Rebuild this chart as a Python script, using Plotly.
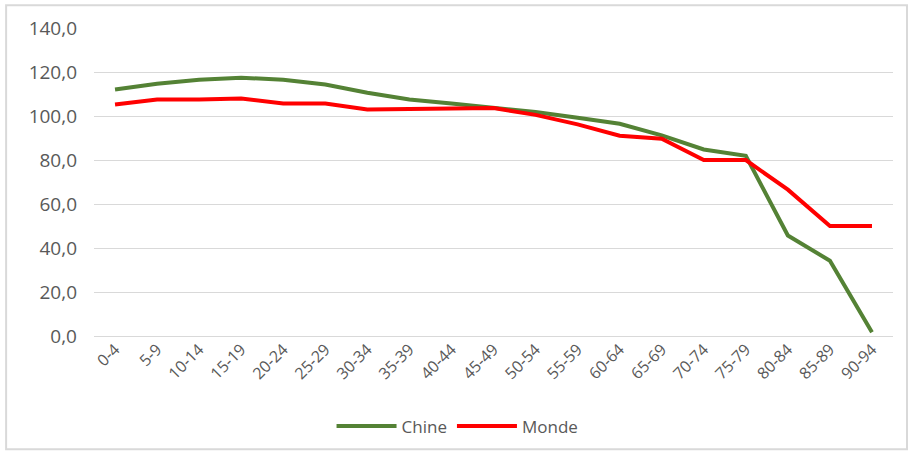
import plotly.graph_objects as go

age_groups = ["0-4", "5-9", "10-14", "15-19", "20-24", "25-29", "30-34", "35-39",
              "40-44", "45-49", "50-54", "55-59", "60-64", "65-69", "70-74", "75-79",
              "80-84", "85-89", "90-94"]
chine = [112.0, 114.7, 116.5, 117.4, 116.5, 114.3, 110.6, 107.5, 105.7, 103.8,
         101.8, 99.2, 96.5, 91.2, 84.8, 81.9, 45.7, 34.2, 1.7]
monde = [105.2, 107.5, 107.5, 108.0, 105.7, 105.7, 103.0, 103.0, 103.4, 103.6,
         100.5, 96.2, 91.0, 89.7, 80.0, 80.0, 66.5, 50.0, 50.0]
y_ticks = [0, 20, 40, 60, 80, 100, 120, 140]

fig = go.Figure()
fig.add_trace(go.Scatter(x=age_groups, y=chine, mode="lines", name="Chine",
                         line=dict(color="#548235", width=4)))
fig.add_trace(go.Scatter(x=age_groups, y=monde, mode="lines", name="Monde",
                         line=dict(color="#FF0000", width=4)))

fig.update_layout(
    width=912, height=457,
    margin=dict(l=94, r=19, t=28, b=119),
    paper_bgcolor="white", plot_bgcolor="white",
    separators=", ",
    font=dict(family="Open Sans", size=16, color="#595959"),
    showlegend=True,
    legend=dict(orientation="h", x=0.455, xanchor="center", y=-0.294, yanchor="middle",
                font=dict(size=17, color="#595959"), itemwidth=60,
                tracegroupgap=0),
    xaxis=dict(type="category", range=[-0.5, len(age_groups) - 0.5],
               tickangle=-45, showgrid=False, showline=False,
               ticks="", tickfont=dict(size=16, color="#595959")),
    yaxis=dict(range=[0, 140], tickvals=y_ticks, tickformat=".1f",
               showgrid=True, gridcolor="#d9d9d9", gridwidth=1,
               zeroline=True, zerolinecolor="#d9d9d9", zerolinewidth=1,
               showline=False, ticks="", ticklabelstandoff=16,
               tickfont=dict(size=19, color="#595959")),
    shapes=[dict(type="rect", xref="paper", yref="paper",
                 x0=-0.110, x1=1.0175, y0=-0.368, y1=1.074,
                 line=dict(color="#d9d9d9", width=2), layer="below")],
)

fig.write_html("out.html")
